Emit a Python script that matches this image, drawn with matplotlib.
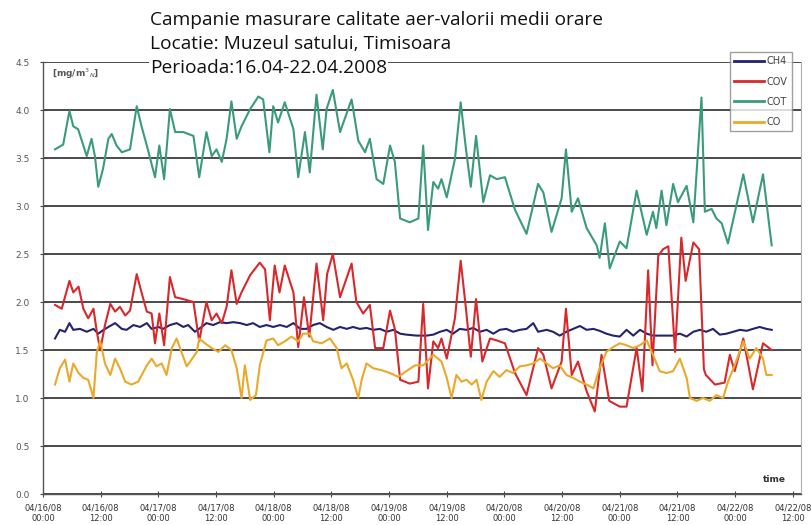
import matplotlib
matplotlib.use("Agg")
import matplotlib.pyplot as plt
from matplotlib.lines import Line2D

# ---------------- data (hours since 04/16/08 00:00, values mg/m3N) ----------------
ch4_hours = [2.5, 3.5, 4.6, 5.5, 6.3, 7.7, 9.1, 10.5, 11.5, 12.6, 13.6, 15.0, 16.4, 17.4, 18.8,
             20.2, 21.6, 22.6, 24.0, 25.0, 26.4, 27.8, 29.2, 30.2, 31.6, 33.0, 34.0, 35.4, 36.8,
             38.2, 39.6, 41.0, 42.4, 43.7, 45.1, 46.5, 47.9, 49.3, 50.7, 52.1, 53.5, 54.8, 56.2,
             57.6, 59.0, 60.4, 61.8, 63.2, 64.5, 65.9, 67.3, 68.7, 70.1, 71.5, 72.9, 74.3, 75.6,
             77.7, 79.8, 81.2, 82.6, 84.0, 85.3, 86.7, 88.1, 89.5, 90.9, 92.3, 93.7, 95.0, 96.4,
             97.8, 99.2, 100.6, 102.0, 103.0, 104.8, 106.1, 107.5, 108.9, 110.3, 111.7, 113.1,
             114.5, 115.8, 117.2, 118.6, 120.0, 121.4, 122.8, 124.2, 125.6, 126.9, 129.0, 131.1,
             132.5, 133.9, 135.3, 136.7, 138.0, 139.4, 140.8, 142.2, 143.6, 145.0, 146.4, 147.7,
             149.1, 150.5, 151.6]
ch4_values = [1.62, 1.71, 1.69, 1.78, 1.71, 1.72, 1.69, 1.72, 1.67, 1.71, 1.74, 1.78, 1.72, 1.71, 1.76,
              1.74, 1.78, 1.72, 1.74, 1.72, 1.76, 1.78, 1.74, 1.76, 1.69, 1.74, 1.78, 1.76, 1.79,
              1.78, 1.79, 1.78, 1.76, 1.78, 1.74, 1.76, 1.74, 1.76, 1.74, 1.78, 1.72, 1.72, 1.76,
              1.78, 1.74, 1.71, 1.74, 1.72, 1.74, 1.72, 1.73, 1.71, 1.72, 1.69, 1.71, 1.67, 1.66,
              1.65, 1.65, 1.66, 1.69, 1.71, 1.67, 1.72, 1.71, 1.73, 1.69, 1.71, 1.67, 1.71, 1.72,
              1.69, 1.71, 1.72, 1.78, 1.69, 1.71, 1.69, 1.65, 1.69, 1.72, 1.75, 1.71,
              1.72, 1.70, 1.67, 1.65, 1.64, 1.71, 1.65, 1.71, 1.67, 1.65, 1.65, 1.65,
              1.67, 1.64, 1.69, 1.71, 1.69, 1.72, 1.66, 1.67, 1.69, 1.71, 1.70, 1.72,
              1.74, 1.72, 1.71]

cov_hours = [2.5, 3.9, 5.5, 6.3, 7.4, 8.4, 9.4, 10.5, 11.2, 11.9, 12.9, 14.0, 15.0, 16.0, 17.1,
             18.1, 19.5, 20.5, 21.6, 22.6, 23.3, 24.2, 25.2, 26.4, 27.5, 29.2, 31.3, 32.5, 34.0,
             35.1, 36.1, 37.2, 38.2, 39.2, 40.3, 41.3, 43.1, 45.1, 46.2, 47.2, 48.2, 49.2, 50.3,
             52.1, 53.1, 54.3, 55.4, 56.9, 58.3, 59.1, 60.3, 61.8, 64.2, 65.2, 66.6, 68.0, 69.1,
             70.8, 72.2, 73.2, 74.3, 76.3, 78.1, 79.1, 80.1, 81.2, 82.2, 82.9, 84.0, 85.7, 86.9,
             88.0, 89.0, 90.1, 91.4, 93.0, 94.4, 96.1, 98.2, 100.6, 103.0, 104.1, 105.8, 107.9,
             108.8, 110.0, 111.3, 113.1, 114.8, 116.2, 117.8, 120.0, 121.4, 123.5, 124.7, 125.9,
             126.8, 128.0, 129.0, 130.1, 131.5, 132.8, 133.7, 135.3, 136.5, 137.5, 137.9, 139.8,
             141.8, 142.9, 143.9, 145.7, 147.7, 149.8, 151.6]
cov_values = [1.97, 1.93, 2.22, 2.10, 2.16, 1.93, 1.83, 1.93, 1.69, 1.50, 1.76, 1.98, 1.90, 1.95, 1.86,
              1.91, 2.29, 2.10, 1.90, 1.88, 1.57, 1.88, 1.55, 2.26, 2.05, 2.03, 2.00, 1.59, 2.00,
              1.81, 1.88, 1.78, 1.95, 2.33, 1.98, 2.10, 2.28, 2.41, 2.34, 1.81, 2.38, 2.10, 2.38,
              2.10, 1.53, 2.05, 1.64, 2.40, 1.81, 2.29, 2.50, 2.05, 2.40, 2.00, 1.88, 1.97, 1.52,
              1.52, 1.91, 1.72, 1.19, 1.15, 1.17, 1.98, 1.10, 1.59, 1.52, 1.62, 1.41, 1.83, 2.43,
              1.93, 1.43, 2.03, 1.38, 1.62, 1.60, 1.57, 1.26, 1.03, 1.52, 1.45, 1.10, 1.38,
              1.93, 1.24, 1.38, 1.07, 0.86, 1.45, 0.97, 0.91, 0.91, 1.52, 1.07, 2.33,
              1.34, 2.48, 2.55, 2.58, 1.48, 2.67, 2.22, 2.62, 2.55, 1.30, 1.24, 1.14,
              1.16, 1.45, 1.28, 1.62, 1.09, 1.57, 1.50]

cot_hours = [2.5, 4.2, 5.5, 6.3, 7.3, 8.4, 9.1, 10.1, 10.8, 11.5, 12.5, 13.6, 14.3, 15.3, 16.4,
             18.1, 19.5, 20.5, 21.6, 23.3, 24.2, 25.2, 26.4, 27.5, 29.2, 31.3, 32.5, 34.0, 35.1,
             36.1, 37.2, 38.2, 39.2, 40.3, 41.3, 43.1, 44.8, 45.8, 47.1, 47.9, 48.9, 50.3, 52.1,
             53.1, 54.5, 55.5, 56.9, 58.2, 59.0, 60.3, 61.8, 64.2, 65.6, 67.0, 68.0, 69.4, 70.8,
             72.2, 73.2, 74.3, 76.3, 78.1, 79.1, 80.1, 81.2, 82.2, 82.9, 84.0, 85.7, 86.9, 88.0,
             89.0, 90.1, 91.6, 93.0, 94.4, 96.1, 98.2, 100.6, 103.0, 104.1, 105.8, 107.9, 108.8,
             110.0, 111.3, 113.1, 115.2, 115.8, 116.9, 117.9, 120.0, 121.4, 123.5, 125.6, 126.9,
             127.6, 128.7, 129.7, 131.1, 132.1, 133.9, 135.3, 137.0, 137.7, 139.1, 140.1, 141.2,
             142.5, 145.7, 147.7, 149.8, 151.6]
cot_values = [3.59, 3.64, 3.99, 3.83, 3.80, 3.63, 3.52, 3.70, 3.52, 3.20, 3.39, 3.70, 3.75, 3.63, 3.56,
              3.59, 4.04, 3.83, 3.63, 3.30, 3.63, 3.28, 4.01, 3.77, 3.77, 3.73, 3.30, 3.77, 3.52,
              3.59, 3.46, 3.70, 4.09, 3.70, 3.83, 4.01, 4.14, 4.11, 3.56, 4.04, 3.87, 4.08, 3.80,
              3.30, 3.77, 3.35, 4.16, 3.59, 4.01, 4.21, 3.77, 4.11, 3.68, 3.56, 3.70, 3.28, 3.23,
              3.63, 3.46, 2.87, 2.83, 2.87, 3.63, 2.75, 3.25, 3.18, 3.28, 3.09, 3.49, 4.08, 3.59,
              3.20, 3.73, 3.04, 3.32, 3.28, 3.30, 2.96, 2.71, 3.23, 3.14, 2.73, 3.08, 3.59,
              2.94, 3.08, 2.77, 2.59, 2.46, 2.82, 2.35, 2.63, 2.56, 3.16, 2.70, 2.94,
              2.77, 3.16, 2.80, 3.23, 3.04, 3.21, 2.83, 4.13, 2.94, 2.97, 2.87, 2.82,
              2.61, 3.33, 2.83, 3.33, 2.59]

co_hours = [2.5, 3.5, 4.6, 5.5, 6.3, 7.4, 8.4, 9.4, 10.5, 11.2, 11.9, 12.9, 14.0, 15.0, 16.0,
            17.1, 18.4, 19.8, 21.6, 22.6, 23.6, 24.7, 25.7, 26.8, 27.8, 28.8, 29.9, 30.9, 32.0,
            32.5, 33.7, 35.1, 36.5, 37.9, 39.2, 40.3, 41.3, 42.0, 43.1, 44.3, 45.1, 46.5, 47.9,
            48.9, 50.3, 51.7, 53.1, 54.1, 55.5, 56.2, 58.0, 59.7, 61.1, 62.1, 63.2, 64.5, 65.6,
            66.3, 67.3, 68.7, 70.4, 72.2, 73.9, 75.6, 77.4, 79.1, 81.2, 82.9, 84.0, 85.0, 86.0,
            87.1, 88.1, 89.2, 90.2, 91.2, 92.3, 93.7, 95.0, 96.4, 97.8, 99.2, 100.6, 102.0, 103.4,
            104.8, 106.1, 107.5, 108.9, 110.3, 111.7, 113.1, 114.5, 115.8, 117.2, 118.6, 120.0,
            121.4, 122.8, 124.2, 125.6, 126.9, 128.3, 129.7, 131.1, 132.5, 133.9, 134.6, 136.0,
            137.3, 138.7, 140.1, 141.5, 142.5, 143.9, 145.7, 147.0, 148.4, 149.8, 150.5, 151.6]
co_values = [1.14, 1.31, 1.40, 1.17, 1.36, 1.26, 1.21, 1.19, 1.00, 1.48, 1.59, 1.36, 1.24, 1.41, 1.31,
             1.17, 1.14, 1.17, 1.34, 1.41, 1.33, 1.36, 1.24, 1.52, 1.62, 1.48, 1.33, 1.40, 1.48,
             1.62, 1.57, 1.52, 1.48, 1.55, 1.50, 1.31, 1.00, 1.34, 0.98, 1.03, 1.34, 1.60, 1.62,
             1.55, 1.59, 1.64, 1.59, 1.67, 1.67, 1.59, 1.57, 1.62, 1.52, 1.31, 1.36, 1.19, 1.00,
             1.19, 1.36, 1.31, 1.29, 1.26, 1.22, 1.28, 1.34, 1.34, 1.45, 1.38, 1.21, 1.00, 1.24,
             1.17, 1.19, 1.14, 1.19, 0.98, 1.17, 1.28, 1.22, 1.29, 1.26, 1.33, 1.34, 1.36, 1.41,
             1.36, 1.31, 1.34, 1.24, 1.21, 1.17, 1.14, 1.10, 1.31, 1.48, 1.53, 1.57,
             1.55, 1.52, 1.55, 1.60, 1.45, 1.28, 1.26, 1.28, 1.41, 1.21, 1.00, 0.97,
             1.00, 0.97, 1.03, 1.00, 1.17, 1.34, 1.59, 1.41, 1.52, 1.41, 1.24, 1.24]

series_names = ["CH4", "COV", "COT", "CO"]
series_colors = ["#23236e", "#d8282b", "#3a9b7b", "#eaa92a"]

tick_hours = [0, 12, 24, 36, 48, 60, 72, 84, 96, 108, 120, 132, 144, 156]
tick_labels = ["04/16/08\n00:00", "04/16/08\n12:00", "04/17/08\n00:00", "04/17/08\n12:00",
               "04/18/08\n00:00", "04/18/08\n12:00", "04/19/08\n00:00", "04/19/08\n12:00",
               "04/20/08\n00:00", "04/20/08\n12:00", "04/21/08\n00:00", "04/21/08\n12:00",
               "04/22/08\n00:00", "04/22/08\n12:00"]
y_ticks = [0.0, 0.5, 1.0, 1.5, 2.0, 2.5, 3.0, 3.5, 4.0, 4.5]

title_lines = ["Campanie masurare calitate aer-valorii medii orare",
               "Locatie: Muzeul satului, Timisoara",
               "Perioada:16.04-22.04.2008"]

# ---------------- figure ----------------
fig = plt.figure(figsize=(8.11, 5.25), dpi=100)
ax = fig.add_axes([43 / 811, 1 - 494 / 525, (801 - 43) / 811, (494 - 62) / 525])

all_h = [ch4_hours, cov_hours, cot_hours, co_hours]
all_v = [ch4_values, cov_values, cot_values, co_values]
for h, v, c in zip(all_h, all_v, series_colors):
    ax.plot(h, v, color=c, lw=1.5, solid_joinstyle="round")

ax.set_xlim(0, 157.7)
ax.set_ylim(0, 4.5)
ax.set_yticks(y_ticks)
ax.set_yticklabels([f"{t:.1f}" for t in y_ticks])
ax.set_xticks(tick_hours)
ax.set_xticklabels(tick_labels, linespacing=1.25)
ax.tick_params(axis="x", labelsize=6, colors="#444444", direction="inout", length=5, pad=4,
               labelcolor="#333333")
ax.tick_params(axis="y", labelsize=6.5, colors="#444444", direction="inout", length=5, pad=7,
               labelcolor="#555555")

ax.yaxis.grid(True, color="#4a4a4a", lw=1.4)
ax.set_axisbelow(True)
for s in ["left", "bottom"]:
    ax.spines[s].set_color("#555555")
    ax.spines[s].set_linewidth(1.0)
ax.spines["right"].set_color("#b0b0b0")
ax.spines["top"].set_visible(False)

ax.text(0.043, 0.972, r"[mg/m$^3$$_N$]", transform=ax.transAxes, fontsize=6.5,
        color="#555555", ha="center", va="center", fontweight="bold")
ax.text(0.965, 0.033, "time", transform=ax.transAxes, fontsize=6.5,
        color="#333333", ha="center", va="center", fontweight="bold")

handles = [Line2D([0], [0], color=c, lw=2) for c in series_colors]
leg = fig.legend(handles, series_names, loc="upper left",
                 bbox_to_anchor=(730 / 811, 1 - 52 / 525), fontsize=7,
                 frameon=True, fancybox=False, edgecolor="#888888", handlelength=3.0,
                 handletextpad=0.3, borderpad=0.45, labelspacing=1.05, borderaxespad=0)
for t in leg.get_texts():
    t.set_color("#444444")

ys = [20, 44, 68]
for line, y in zip(title_lines, ys):
    fig.text(150 / 811, 1 - y / 525, line, fontsize=13.8, family="Open Sans", ha="left",
             va="center", color="#111111",
             bbox=dict(facecolor="white", edgecolor="none", pad=1.0))

fig.savefig("out.png", dpi=100)
